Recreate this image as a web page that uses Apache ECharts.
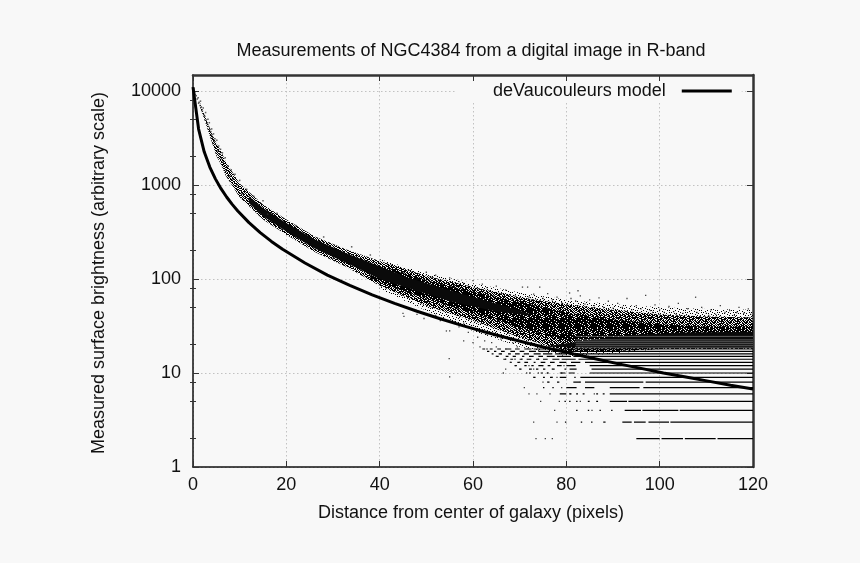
<!DOCTYPE html>
<html><head><meta charset="utf-8">
<style>html,body{margin:0;padding:0;background:#f8f8f8}#c{width:860px;height:563px}</style>
<script src="https://cdn.jsdelivr.net/npm/echarts@6/dist/echarts.min.js"></script>
</head><body><div id="c"></div>
<script>
const yMajor=[1,10,100,1000,10000];
const yMinor=[2,5,8,20,50,80,200,500,800,2000,5000,8000];
const modelLine=[[0,11000],[1.2,3940],[2.4,2255],[3.6,1552],[4.8,1162],[6,915],[7.2,745],[8.4,622],[9.6,529],[12,398],[14.4,312],[16.8,251],[19.2,207],[24,148],[28.8,110],[33.6,85.5],[38.4,67.9],[43.2,55],[48,45.4],[52.8,38],[57.6,32.1],[62.4,27.5],[67.2,23.7],[72,20.6],[76.8,18],[81.6,15.9],[86.4,14.1],[91.2,12.5],[96,11.2],[100.8,10],[105.6,9.06],[110.4,8.2],[115.2,7.4],[120,6.76]];
const coreX=[12,15,20,26,33,40,46,55,65,72];
const coreUp=[760,570,395,265,187,137,104,76,55,43];
const coreLow=[640,465,320,212,147,100,80,58,45,41];
const denseX=[38,46,50,60,65,70,75,80,90,100,110,120];
const denseUp=[145,112,97,73,64,57,50,44,37,33,31,31];
const denseLow=[100,72,62,43,37,30,26,22,20,20,20,20];
const blackX=[76,85,95,105,120];
const blackUp=[19.4,22.5,25.5,27,27.5];
const blackLow=[19,18.6,18.4,18.4,18.4];
const midX=[1.5,3,4,5,6,7,10,15,20,26,33,40,50,60,70,80,90,100,110,120];
const midUp=[7500,4800,3600,2800,2300,1780,1040,620,430,285,205,155,108,82,64,54,47,42,40,39];
const midLow=[6800,4100,2900,2050,1650,1260,740,430,295,195,133,85,52,36,24,17,17,18,18,18];
const thinX=[40,50,60,70,80,90,100,110,120];
const thinUp=[162,116,90,72,60,54,50,48,47];
const thinLow=[78,46,28,19,15,16,18,18,18];
const rowValues=[2,3,4,5,6,7,8,9,10,11,12,13,14,15,16,17,18];
const rowSpans=[
[[95,100],[100.4,105],[105.4,112],[112.4,120]],
[[79.7,80],[83.1,83.4],[85.3,85.6],[88.1,88.4],[92,94],[94.5,97],[97.6,102],[102.3,120]],
[[82.1,82.4],[84.6,84.9],[87.1,87.4],[89.6,89.9],[92.5,96],[96.3,104],[104.3,120]],
[[79.6,79.9],[80.6,80.9],[82.1,82.4],[84.6,85],[86.4,86.8],[89.3,93],[93.3,120]],
[[78.6,80],[80.6,81],[82.1,82.5],[83.5,83.9],[86.4,86.8],[87.8,88.2],[89.3,120]],
[[75,75.3],[77,77.3],[80,82.2],[84,86],[89.3,95.7],[96.5,120]],
[[76,76.4],[78,78.5],[81.5,83],[84,96.5],[97,120]],
[[73,73.4],[75,75.4],[76.5,77],[78.6,80],[81.7,82],[83,120]],
[[72,72.4],[74.5,75],[75.8,76.2],[78.6,79.8],[80.5,81.8],[85,120]],
[[70,70.4],[72,72.6],[73.5,74],[75,75.5],[77,77.5],[79.6,80],[80.7,82.2],[85.4,120]],
[[69,69.4],[71,71.5],[72.5,73],[74,75],[76,76.6],[78,79],[80,82],[85,120]],
[[68,68.3],[69.5,70],[71,71.8],[73,73.4],[74.5,75.5],[76.5,77.5],[78.5,80],[81,83],[84,120]],
[[66.5,67],[68,68.6],[70,70.5],[71.5,72.5],[73.5,74.2],[75,76],[77,78.5],[79,82],[82.6,120]],
[[65,65.5],[67,67.6],[68.5,69.2],[70.5,71],[72,73],[74,75],[75.8,77.5],[78,81],[81.5,120]],
[[64,64.4],[65.5,66.2],[67.5,68],[69,70],[71,72],[73,74.5],[75,77],[77.6,80],[80.5,120]],
[[63,63.5],[64.5,65],[66,66.8],[68,69],[70,71],[72,73.5],[74,76.5],[77,79.5],[80,120]],
[[62,62.6],[63.6,64.2],[65.2,66],[67,68.2],[69,70],[71,72.5],[73,75.5],[76,79],[79.5,120]]
];
const gapValues=[18.5,19.5,20.5,21.5,22.5,24.5];
const gapSpans=[82,120];
const pointsEarly=[[0.2,10500],[0.3,9600],[0.4,9800],[0.5,9200],[0.7,8900],[0.9,8200],[1.1,8500],[1.2,7400],[1.3,7600],[1.5,7000],[1.6,7800],[1.8,6700],[2,6100],[2.2,6600],[2.3,5600],[2.5,5400],[2.7,5900],[2.8,4900],[3,4500],[3.2,5000],[3.3,4200],[3.5,4600],[3.6,3900],[3.8,3700],[4,3400],[4,3950],[4.2,3200],[4.4,3500],[4.5,2900],[4.7,3100],[4.8,2700],[5.1,3000],[5.3,2300],[5.5,2600],[5.7,2150],[5.9,2400],[6.1,1900],[6.3,2200],[6.5,1750],[6.9,1950],[7.1,1400],[7.5,1600],[7.9,1250],[8.2,1450],[8.6,1150],[9,1300],[9.4,1000],[10,1120],[10.5,800],[11.5,900],[12,700],[13,760],[14,620],[15,680],[16,490],[18,500],[19,340],[22,370],[24,240],[28,280],[30,165],[34,220],[36,125],[38,180]];
const pointsTop=[[45,118],[47,120],[48,100],[50,118],[51,104],[52,110],[53,98],[55,103],[56,86],[57,94],[58,90],[59,84],[60,96],[61,78],[62,88],[63,81],[64,72],[65,84],[66,70],[67,76],[68,68],[69,66],[70.6,82],[71.7,82],[72,64],[73,69],[74.3,82],[75,62],[76,70],[77,60],[78,64],[79,56],[80.7,71],[82.5,75],[81,62],[82,58],[83,66],[84,54],[85,60],[86,52],[87,63],[88,50],[89,58],[90,49],[91,55],[92,50],[93,62],[94,47],[95,52],[96,48],[97,67],[98,46],[99,53],[100,47],[101,44],[102,51],[103,45],[104,55],[105,43],[106,48],[107.7,64],[108,44],[109,50],[110,43],[111,47],[112,42],[113,52],[114,44],[115,46],[116,41],[117,50],[118,43],[119,48],[119.5,42],[64.5,66],[72.5,60],[80,52],[86.5,48],[92.5,46],[98.5,44],[103.5,42],[110.5,41],[116.5,44]];
const pointsLow=[[45,43],[45.2,40],[48,42],[49.5,38],[52,41],[53,36],[54.3,28],[55,28],[54.9,14.2],[55,9.1],[56,35],[57,31],[58,34],[59,27],[60,30],[61,24],[62,28],[62.5,22],[63,26],[64,21],[64.5,25],[65,19],[66,23],[66.5,10],[67,11],[67,18],[68,16],[68.5,21],[69,14],[69.5,19],[70,13],[71,7],[71,16],[72,6],[72,12],[73,3],[73.5,2],[73,9],[74,14],[74.5,5],[75,8],[75,12],[76,8],[76.5,6],[77,11],[77.5,4],[78,9],[78,3],[78.5,5],[79,7],[79.5,12],[75.5,2],[77,2],[73.7,6],[58,22],[60,21],[61.5,19],[63,18],[65,15],[66,16],[67,14],[68,13],[69,12],[70,11],[70.5,14],[71.5,10],[73,11],[74,10],[76,10],[77,9],[79,10],[81,6],[83,5],[83,8],[85.5,4],[86,6],[88,3]];
const bumpy=["0110101101001011","1011010010110101","0101101011010110","1101001101101001","0010110110010111","1101011001101010","1010110110100101","0111001010111010","1001101101001101","0110010110110010","1011101001011011","0100110110100110","1101011010011001","0011010101101110","1100101011010101","0101110100101010"];
const sparse=["0000100000010000","0100000100000001","0000001000100000","0010000000001000","1000010000000010","0000000101000000","0001000000010100","0100001000000000","0000000010000101","0010100000100000","0000000100000010","1000000001001000","0000100000000001","0100000010010000","0000010000100000","0010000100000100"];
const extra=["1001000110000100","0000101001000010","1000010000101001","0010010010000100","1101000001100000","0010100000010001","0100001001000010","1000100100000101","0110000000100100","0001101000000101","0100000100100000","1010001000001000","0000100001100001","0100001000010000","0011000000100001","1000001011010000"];
function stipple(){const layers=[...arguments];const k=document.createElement('canvas');k.width=16;k.height=16;const t=k.getContext('2d');t.fillStyle='#000';layers.forEach(rows=>rows.forEach((r,j)=>[...r].forEach((b,i)=>{if(b==='1')t.fillRect(i,j,1,1)})));return {image:k,repeat:'repeat'};}
function band(name,xs,up,low,fill,z){
  const verts=xs.map((x,i)=>[x,up[i]]).concat(xs.map((x,i)=>[x,low[i]]).reverse());
  return {name,type:'custom',coordinateSystem:'cartesian2d',z,clip:true,silent:true,data:verts,
    renderItem(p,api){if(p.dataIndex!==0)return null;return {type:'polygon',shape:{points:verts.map(v=>api.coord(v))},style:{fill}};}};
}
const rowData=[];rowValues.forEach((v,i)=>rowSpans[i].forEach(s=>{rowData.push([s[0],v],[s[1],v],[s[1],null]);}));
const gapData=[];gapValues.forEach(v=>{gapData.push([gapSpans[0],v],[gapSpans[1],v],[gapSpans[1],null]);});
const font='"Liberation Sans"';
const tick=(vals,len,w)=>({show:true,inside:true,length:len,customValues:vals,lineStyle:{color:'#333',width:w||1}});
const yBase={type:'log',logBase:10,min:1,max:14800};
const gridLine={show:true,lineStyle:{color:'#c2c2c2',type:[1.5,2.5],width:1}};
const chart=echarts.init(document.getElementById('c'),null,{renderer:'canvas'});
chart.setOption({
  animation:false,backgroundColor:'#f8f8f8',textStyle:{fontFamily:font},
  title:{text:'Measurements of NGC4384 from a digital image in R-band',left:466,top:37,textAlign:'center',textStyle:{fontFamily:font,fontSize:18,fontWeight:'normal',color:'#111'}},
  legend:{data:['deVaucouleurs model'],left:455,top:81,align:'right',icon:'rect',itemWidth:50,itemHeight:3,itemGap:0,padding:[1,10,1,38],backgroundColor:'#f8f8f8',z:1,textStyle:{fontFamily:font,fontSize:18,color:'#111',padding:[0,11,0,0]}},
  grid:{left:193,right:107,top:75,bottom:96},
  xAxis:[
    {type:'value',min:0,max:120,interval:20,position:'bottom',name:'Distance from center of galaxy (pixels)',nameLocation:'middle',nameGap:37,nameTextStyle:{fontFamily:font,fontSize:18,color:'#111',padding:[0,4,0,0]},
     axisLine:{onZero:false,lineStyle:{color:'#111',width:1.5}},axisTick:{show:true,inside:true,length:6,lineStyle:{color:'#333'}},axisLabel:{fontFamily:font,fontSize:18,color:'#111',margin:9},splitLine:gridLine},
    {type:'value',min:0,max:120,interval:20,position:'top',axisLine:{onZero:false,lineStyle:{color:'#333',width:2.5}},axisTick:{show:true,inside:true,length:6,lineStyle:{color:'#333'}},axisLabel:{show:false},splitLine:{show:false}}
  ],
  yAxis:[
    {...yBase,position:'left',name:'Measured surface brightness (arbitrary scale)',nameLocation:'middle',nameGap:85,nameTextStyle:{fontFamily:font,fontSize:18,color:'#111',padding:[0,4,0,0]},
     axisLine:{onZero:false,show:true,lineStyle:{color:'#111',width:1.5}},axisTick:tick(yMajor,6),axisLabel:{fontFamily:font,fontSize:18,color:'#111',margin:12,customValues:yMajor,formatter:v=>String(Math.round(v))},splitLine:gridLine},
    {...yBase,position:'left',axisLine:{show:false},axisTick:tick(yMinor,3),axisLabel:{show:false},splitLine:{show:false}},
    {...yBase,position:'right',axisLine:{onZero:false,show:true,lineStyle:{color:'#333',width:2.5}},axisTick:tick(yMajor,6),axisLabel:{show:false},splitLine:{show:false}},
    {...yBase,position:'right',axisLine:{show:false},axisTick:tick(yMinor,3),axisLabel:{show:false},splitLine:{show:false}}
  ],
  series:[
    band('thin',thinX,thinUp,thinLow,stipple(sparse),2),
    band('mid',midX,midUp,midLow,stipple(bumpy),3),
    band('dense',denseX,denseUp,denseLow,stipple(bumpy,sparse,extra),4),
    band('core',coreX,coreUp,coreLow,'#0a0a0a',4),
    band('black',blackX,blackUp,blackLow,'#0a0a0a',4),
    {name:'gaps',type:'line',data:gapData,showSymbol:false,silent:true,z:5,connectNulls:false,lineStyle:{color:'#999',width:0.6}},
    {name:'rows',type:'line',data:rowData,showSymbol:false,silent:true,z:6,connectNulls:false,lineStyle:{color:'#000',width:1.2}},
    {name:'early',type:'scatter',data:pointsEarly,symbol:'rect',symbolSize:1.5,silent:true,z:6,itemStyle:{color:'#333'}},
    {name:'top',type:'scatter',data:pointsTop,symbol:'rect',symbolSize:1.3,silent:true,z:6,itemStyle:{color:'#111'}},
    {name:'low',type:'scatter',data:pointsLow,symbol:'rect',symbolSize:1.3,silent:true,z:6,itemStyle:{color:'#111'}},
    {name:'deVaucouleurs model',type:'line',data:modelLine,showSymbol:false,silent:true,z:8,itemStyle:{color:'#000'},lineStyle:{color:'#000',width:3}}
  ]
});
</script></body></html>
